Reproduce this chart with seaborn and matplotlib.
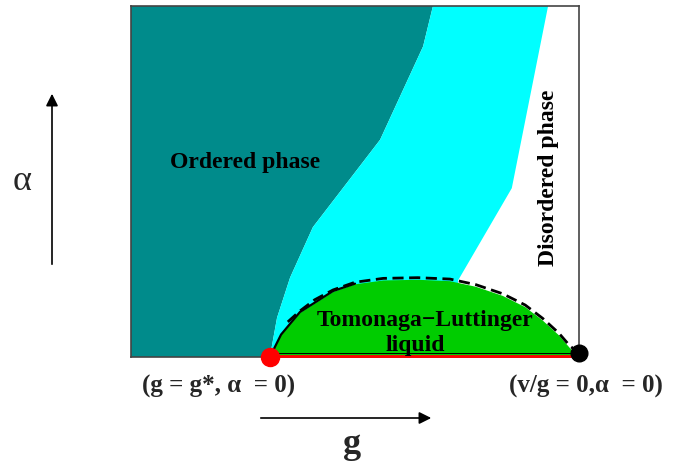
import matplotlib
matplotlib.use("Agg")
import matplotlib.pyplot as plt
import seaborn as sns
import numpy as np
import pandas as pd

# ---- data (g along x, alpha along y, both normalised 0..1) ----
ordered_bx = [0.310, 0.326, 0.355, 0.406, 0.556, 0.652, 0.674]
ordered_by = [0.000, 0.112, 0.226, 0.370, 0.619, 0.885, 1.000]
disord_bx = [0.931, 0.850, 0.730]
disord_by = [1.000, 0.481, 0.218]
dome_x = [0.310, 0.335, 0.377, 0.451, 0.500, 0.563, 0.640, 0.712, 0.770, 0.830, 0.880, 0.919, 0.955, 0.980, 0.998]
dome_y = [0.000, 0.062, 0.125, 0.185, 0.207, 0.218, 0.220, 0.216, 0.200, 0.174, 0.142, 0.104, 0.062, 0.025, 0.000]
solid_x = [0.310, 0.335, 0.377, 0.451, 0.500]
solid_y = [0.000, 0.064, 0.128, 0.188, 0.209]
dash_x = [0.350, 0.377, 0.410, 0.451, 0.500, 0.563, 0.640, 0.712, 0.770, 0.830, 0.880, 0.919, 0.955, 0.980, 1.000]
dash_y = [0.100, 0.131, 0.163, 0.191, 0.213, 0.224, 0.226, 0.222, 0.206, 0.180, 0.148, 0.110, 0.068, 0.031, 0.012]
crit_point = (0.310, 0.000)
end_point = (1.000, 0.012)

sns.set_theme(style="white")
plt.rcParams['font.family'] = ['Liberation Serif', 'DejaVu Serif']

fig = plt.figure(figsize=(6.8, 4.64), dpi=100)
ax = fig.add_axes([131/680, 1-358/464, 448/680, 351/464])
ax.set_xlim(0, 1)
ax.set_ylim(0, 1)

teal = "#008B8B"
cyan = "#00FFFF"
green = "#00CC00"

# ordered phase
ax.fill([0, 0] + ordered_bx[::-1], [0, 1] + ordered_by[::-1], color=teal, lw=0, zorder=1)
# intermediate (cyan) region
cx = ordered_bx + disord_bx + [disord_bx[-1]]
cy = ordered_by + disord_by + [0.0]
ax.fill(cx, cy, color=cyan, lw=0, zorder=1)
# Tomonaga-Luttinger dome
ax.fill(dome_x, dome_y, color=green, lw=0, zorder=2)

dfs = pd.DataFrame({"g": solid_x, "a": solid_y})
dfd = pd.DataFrame({"g": dash_x, "a": dash_y})
sns.lineplot(data=dfs, x="g", y="a", color="black", lw=1.6, ax=ax, zorder=3, sort=False)
sns.lineplot(data=dfd, x="g", y="a", color="black", lw=2, ax=ax, zorder=3, sort=False,
             linestyle=(0, (4, 2)))

# bottom line: red from critical point to end
ax.plot([crit_point[0], 1.0], [0.004, 0.004], color="red", lw=2, zorder=4, clip_on=False)
ax.plot([crit_point[0], 1.0], [0.012, 0.012], color="black", lw=0.7, zorder=4, clip_on=False)

ax.plot([end_point[0]], [end_point[1]], 'o', color="black", ms=12, zorder=6, clip_on=False)
ax.plot([crit_point[0]], [crit_point[1]], 'o', color="red", ms=13, zorder=6, clip_on=False)

for s in ax.spines.values():
    s.set_color("#444444")
    s.set_linewidth(1.2)
ax.set_xticks([])
ax.set_yticks([])
ax.set_xlabel("")
ax.set_ylabel("")

bold = dict(fontweight="bold", color="black", fontsize=17)
ax.text(0.254, 0.558, "Ordered phase", ha="center", va="center", zorder=7, **bold)
ax.text(0.931, 0.513, "Disordered phase", ha="center", va="center", rotation=90, zorder=7, **bold)
ax.text(0.656, 0.108, "Tomonaga\u2212Luttinger", ha="center", va="center", zorder=7, **bold)
ax.text(0.634, 0.037, "liquid", ha="center", va="center", zorder=7, **bold)

# labels outside
fig.text(219/680, 1-386/464, "(g = g*, \u03b1  = 0)", ha="center", va="center",
         fontsize=18, fontweight="bold")
fig.text(586/680, 1-386/464, "(v/g = 0,\u03b1  = 0)", ha="center", va="center",
         fontsize=18, fontweight="bold")

fig.text(352/680, 1-445/464, "g", ha="center", va="center", fontsize=26, fontweight="bold")
fig.text(22/680, 1-182/464, "\u03b1", ha="center", va="center", fontsize=26)

ax.annotate("", xy=(434/680, 1-419/464), xytext=(258/680, 1-419/464),
            xycoords="figure fraction", textcoords="figure fraction",
            arrowprops=dict(arrowstyle="-|>", color="black", lw=1.2, mutation_scale=18))
ax.annotate("", xy=(52/680, 1-92/464), xytext=(52/680, 1-268/464),
            xycoords="figure fraction", textcoords="figure fraction",
            arrowprops=dict(arrowstyle="-|>", color="black", lw=1.2, mutation_scale=18))

fig.savefig("out.png", dpi=100)
